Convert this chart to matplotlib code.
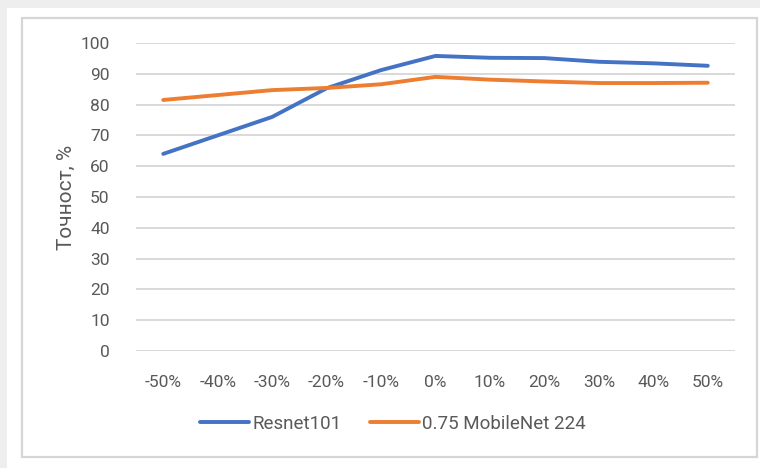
import matplotlib
matplotlib.use("Agg")
import matplotlib.pyplot as plt
from matplotlib.patches import Rectangle

# accuracy vs. brightness shift
shifts = ["-50%", "-40%", "-30%", "-20%", "-10%", "0%", "10%", "20%", "30%", "40%", "50%"]
resnet101 = [64, 70, 76, 85.3, 91.2, 95.8, 95.2, 95.1, 93.9, 93.4, 92.6]
mobilenet = [81.5, 83.1, 84.7, 85.4, 86.6, 89.0, 88.1, 87.5, 87.0, 87.0, 87.1]

series_names = ["Resnet101", "0.75 MobileNet 224"]
y_ticks = list(range(0, 101, 10))

plt.rcParams['font.family'] = ['Roboto', 'DejaVu Sans']
text_col = '#595959'
grid_col = '#d9d9d9'

W, H = 760, 468
fig = plt.figure(figsize=(W / 100, H / 100), dpi=100)
fig.patch.set_facecolor('white')

# gray frame strips and chart border, kept behind the axes
fig.patches.append(Rectangle((0, 1 - 8 / H), 1, 8 / H, transform=fig.transFigure,
                             facecolor='#eeeeee', edgecolor='none', zorder=-2))
fig.patches.append(Rectangle((0, 0), 7 / W, 1, transform=fig.transFigure,
                             facecolor='#eeeeee', edgecolor='none', zorder=-2))
fig.patches.append(Rectangle((22 / W, 1 - 457 / H), (757 - 22) / W, (457 - 18) / H,
                             transform=fig.transFigure, facecolor='white',
                             edgecolor='#d6d6d6', lw=1.6, zorder=-1))

ax = fig.add_axes([136 / W, 1 - 351 / H, (735 - 136) / W, (351 - 43) / H])
ax.set_facecolor('none')

x = range(len(shifts))
ax.plot(x, resnet101, color='#4472c4', lw=2.8, solid_capstyle='round',
        label=series_names[0], zorder=3)
ax.plot(x, mobilenet, color='#ed7d31', lw=2.8, solid_capstyle='round',
        label=series_names[1], zorder=3)

ax.set_xlim(-0.5, len(shifts) - 0.5)
ax.set_ylim(0, 100)
ax.set_yticks(y_ticks)
ax.set_xticks(list(x))
ax.set_xticklabels(shifts)
ax.grid(axis='y', color=grid_col, lw=1.4)
ax.set_axisbelow(True)
for s in ax.spines.values():
    s.set_visible(False)
ax.tick_params(axis='both', length=0, labelsize=12.5, colors=text_col)
ax.tick_params(axis='y', pad=19)
ax.tick_params(axis='x', pad=17)

ax.set_ylabel("Точност, %", fontsize=15, color=text_col, labelpad=3)

ax.legend(loc='center', bbox_to_anchor=(393 / W, 1 - 424 / H),
          bbox_transform=fig.transFigure, ncol=2, frameon=False,
          fontsize=13.5, labelcolor=text_col, handlelength=2.6,
          handletextpad=0.2, columnspacing=1.5)

fig.savefig("out.png", dpi=100, facecolor=fig.get_facecolor())
